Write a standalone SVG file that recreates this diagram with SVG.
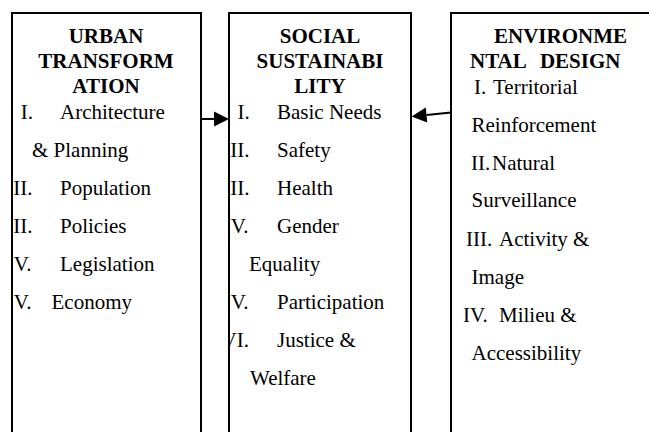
<svg xmlns="http://www.w3.org/2000/svg" width="649" height="432" viewBox="0 0 649 432">
  <style>
    .box { fill: none; stroke: #000; stroke-width: 2; }
    .title { font-family: "Liberation Serif", "Times New Roman", serif; font-size: 21px; font-weight: bold; fill: #000; text-anchor: middle; }
    .title-left { text-anchor: start; }
    .item { font-family: "Liberation Serif", "Times New Roman", serif; font-size: 21px; fill: #000; }
    .num { text-anchor: end; }
    .link { stroke: #000; stroke-width: 2; fill: none; }
  </style>
  <defs>
    <marker id="head" markerUnits="userSpaceOnUse" markerWidth="15" markerHeight="15" refX="0" refY="7.5" orient="auto" overflow="visible">
      <path d="M0,0 L15,7.5 L0,15 Z" fill="#000"/>
    </marker>
    <clipPath id="clipUrban"><rect x="13" y="14" width="187" height="430"/></clipPath>
    <clipPath id="clipSocial"><rect x="230" y="14" width="180" height="430"/></clipPath>
    <clipPath id="clipEnv"><rect x="452" y="14" width="220" height="430"/></clipPath>
  </defs>

  <rect x="0" y="0" width="649" height="432" fill="#fff"/>

  <!-- Urban transformation -->
  <g id="urban-transformation">
    <g clip-path="url(#clipUrban)">
      <text class="title" x="106" y="43">URBAN</text>
      <text class="title" x="106" y="68">TRANSFORM</text>
      <text class="title" x="106" y="93">ATION</text>
      <text class="item num" x="33" y="119">I.</text>
      <text class="item" x="60" y="119">Architecture</text>
      <text class="item" x="32" y="157">&amp; Planning</text>
      <text class="item num" x="32.5" y="195">II.</text>
      <text class="item" x="60" y="195">Population</text>
      <text class="item num" x="32.5" y="233">III.</text>
      <text class="item" x="60" y="233">Policies</text>
      <text class="item num" x="31.5" y="271">IV.</text>
      <text class="item" x="60" y="271">Legislation</text>
      <text class="item num" x="31.5" y="309">V.</text>
      <text class="item" x="51.5" y="309">Economy</text>
    </g>
    <rect class="box" x="12" y="13" width="189" height="440"/>
  </g>

  <!-- Social sustainability -->
  <g id="social-sustainability">
    <g clip-path="url(#clipSocial)">
      <text class="title" x="320" y="43">SOCIAL</text>
      <text class="title" x="320" y="68">SUSTAINABI</text>
      <text class="title" x="320" y="93">LITY</text>
      <text class="item num" x="249.8" y="119">I.</text>
      <text class="item" x="277" y="119">Basic Needs</text>
      <text class="item num" x="249.5" y="157">II.</text>
      <text class="item" x="277" y="157">Safety</text>
      <text class="item num" x="249.5" y="195">III.</text>
      <text class="item" x="277" y="195">Health</text>
      <text class="item num" x="248.5" y="233">IV.</text>
      <text class="item" x="277" y="233">Gender</text>
      <text class="item" x="249" y="271">Equality</text>
      <text class="item num" x="248.5" y="309">V.</text>
      <text class="item" x="277" y="309">Participation</text>
      <text class="item num" x="249" y="347">VI.</text>
      <text class="item" x="277" y="347">Justice &amp;</text>
      <text class="item" x="250" y="385">Welfare</text>
    </g>
    <rect class="box" x="229" y="13" width="182" height="440"/>
  </g>

  <!-- Environmental design -->
  <g id="environmental-design">
    <g clip-path="url(#clipEnv)">
      <text class="title title-left" x="494" y="43">ENVIRONME</text>
      <text class="title title-left" x="470" y="68" word-spacing="9">NTAL DESIGN</text>
      <text class="item" x="474" y="94">I.</text>
      <text class="item" x="493" y="94">Territorial</text>
      <text class="item" x="471.5" y="132">Reinforcement</text>
      <text class="item" x="471" y="169.5">II.</text>
      <text class="item" x="492" y="169.5">Natural</text>
      <text class="item" x="471.5" y="207">Surveillance</text>
      <text class="item" x="466" y="245.5">III.</text>
      <text class="item" x="499" y="245.5">Activity &amp;</text>
      <text class="item" x="471.5" y="283.5">Image</text>
      <text class="item" x="463" y="321.5">IV.</text>
      <text class="item" x="499" y="321.5">Milieu &amp;</text>
      <text class="item" x="471.5" y="360">Accessibility</text>
    </g>
    <rect class="box" x="451" y="13" width="220" height="440"/>
  </g>

  <!-- Connectors -->
  <g id="connectors">
    <line class="link" x1="201" y1="119" x2="214" y2="119" marker-end="url(#head)"/>
    <line class="link" x1="451" y1="112.6" x2="426.5" y2="115" marker-end="url(#head)"/>
  </g>
</svg>
